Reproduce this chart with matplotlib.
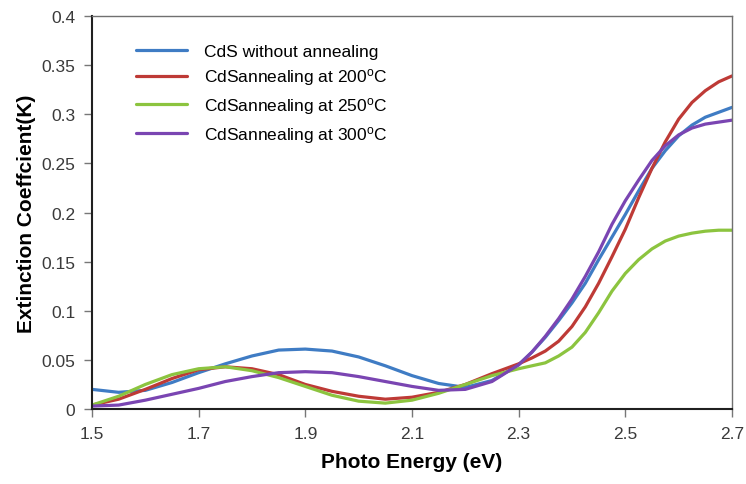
#!/usr/bin/env python3
"""Extinction coefficient of CdS films vs photon energy."""

import matplotlib

matplotlib.use("Agg")
import matplotlib.pyplot as plt

plt.rcParams["font.family"] = ["Liberation Sans", "DejaVu Sans"]
plt.rcParams["mathtext.default"] = "regular"

# 0.05 eV steps up to 2.3, then 0.025 eV steps through the steep edge
energy = [1.50, 1.55, 1.60, 1.65, 1.70, 1.75, 1.80, 1.85, 1.90, 1.95, 2.00,
          2.05, 2.10, 2.15, 2.20, 2.25, 2.300, 2.325, 2.350, 2.375, 2.400,
          2.425, 2.450, 2.475, 2.500, 2.525, 2.550, 2.575, 2.600, 2.625,
          2.650, 2.675, 2.700]

k_as_dep = [0.020, 0.017, 0.019, 0.027, 0.037, 0.046, 0.054, 0.060, 0.061,
            0.059, 0.053, 0.044, 0.034, 0.026, 0.022, 0.029,
            0.045, 0.058, 0.073, 0.090, 0.108, 0.128, 0.152, 0.175, 0.198,
            0.222, 0.245, 0.263, 0.278, 0.289, 0.297, 0.302, 0.307]
k_200 = [0.004, 0.010, 0.020, 0.031, 0.040, 0.043, 0.041, 0.035, 0.025,
         0.018, 0.013, 0.010, 0.012, 0.017, 0.025, 0.036,
         0.046, 0.052, 0.059, 0.069, 0.084, 0.104, 0.128, 0.155, 0.183,
         0.215, 0.245, 0.272, 0.295, 0.312, 0.324, 0.333, 0.339]
k_250 = [0.004, 0.013, 0.025, 0.035, 0.041, 0.043, 0.039, 0.032, 0.023,
         0.014, 0.008, 0.006, 0.009, 0.016, 0.025, 0.034,
         0.041, 0.044, 0.047, 0.054, 0.063, 0.078, 0.098, 0.120, 0.138,
         0.152, 0.163, 0.171, 0.176, 0.179, 0.181, 0.182, 0.182]
k_300 = [0.003, 0.004, 0.009, 0.015, 0.021, 0.028, 0.033, 0.037, 0.038,
         0.037, 0.033, 0.028, 0.023, 0.019, 0.020, 0.028,
         0.045, 0.058, 0.074, 0.092, 0.112, 0.135, 0.160, 0.188, 0.212,
         0.233, 0.253, 0.268, 0.279, 0.286, 0.290, 0.292, 0.294]

labels = ["CdS without annealing",
          "CdSannealing at 200$^{o}$C",
          "CdSannealing at 250$^{o}$C",
          "CdSannealing at 300$^{o}$C"]
colors = ["#3F7CC4", "#BE3A36", "#8CC43F", "#7A45B2"]

xticks = [1.5, 1.7, 1.9, 2.1, 2.3, 2.5, 2.7]
yticks = [0, 0.05, 0.1, 0.15, 0.2, 0.25, 0.3, 0.35, 0.4]
ytick_labels = ["0", "0.05", "0.1", "0.15", "0.2", "0.25", "0.3", "0.35", "0.4"]


def main():
    fig = plt.figure(figsize=(7.46, 4.85), dpi=100)
    ax = fig.add_axes([0.1233, 0.1546, 0.8579, 0.8103])

    for series, label, color in zip([k_as_dep, k_200, k_250, k_300], labels, colors):
        ax.plot(energy, series, color=color, linewidth=2.3, label=label,
                solid_capstyle="round", solid_joinstyle="round")

    ax.set_xlim(1.5, 2.7)
    ax.set_ylim(0, 0.4)
    ax.set_xticks(xticks)
    ax.set_xticklabels([f"{t:.1f}" for t in xticks])
    ax.set_yticks(yticks)
    ax.set_yticklabels(ytick_labels)
    ax.tick_params(axis="both", direction="out", length=6, width=1,
                   color="#777777", labelsize=12.5, labelcolor="#3A3A3A",
                   pad=6)

    for side in ("left", "bottom"):
        ax.spines[side].set_linewidth(1.5)
        ax.spines[side].set_color("#202020")
    for side in ("top", "right"):
        ax.spines[side].set_linewidth(1.0)
        ax.spines[side].set_color("#707070")

    ax.set_xlabel("Photo Energy (eV)", fontsize=15, fontweight="bold",
                  labelpad=8)
    ax.set_ylabel("Extinction Coeffcient(K)", fontsize=15, fontweight="bold",
                  labelpad=4)

    ax.legend(loc="upper left", bbox_to_anchor=(0.045, 0.97), frameon=False,
              fontsize=12.5, handlelength=2.9, handletextpad=1.0,
              labelspacing=0.45)

    fig.savefig("out.png", dpi=100)
    plt.close(fig)


if __name__ == "__main__":
    main()
